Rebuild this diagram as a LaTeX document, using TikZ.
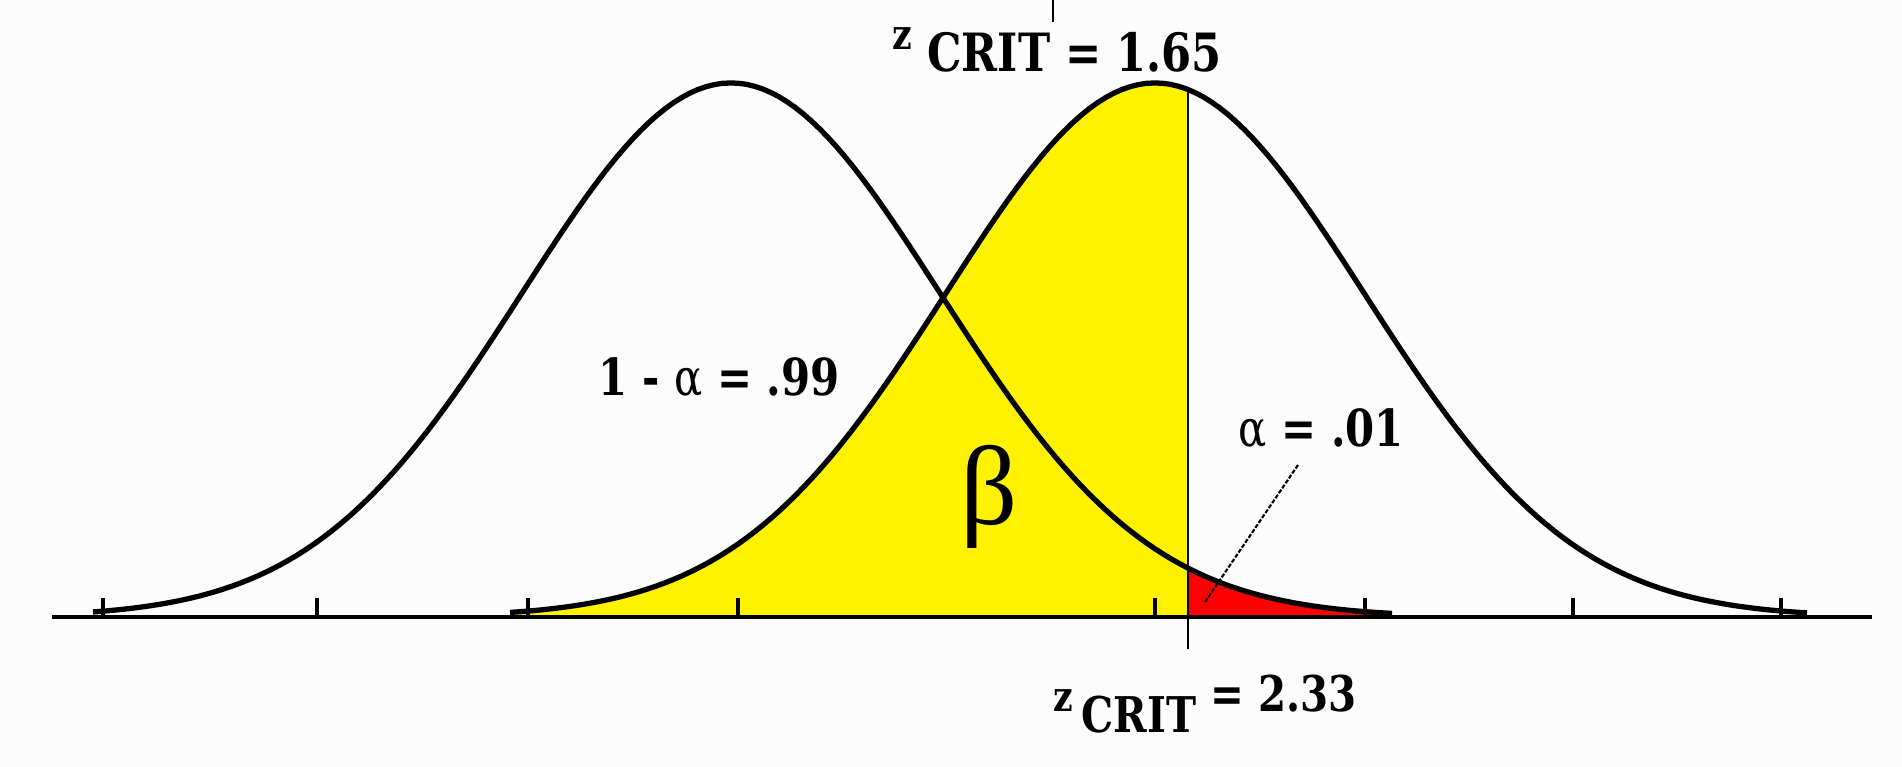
\documentclass[tikz,border=0pt]{standalone}
\usepackage{fontspec}
\newfontfamily\labelfont[FakeStretch=0.82]{DejaVu Serif}
\newfontfamily\greekfont{Liberation Serif}
\definecolor{paper}{RGB}{252,252,252}
\tikzset{declare function={hnull(\x)=617-534*exp(-0.5*((\x-731)/209)^2);
  halt(\x)=617-534*exp(-0.5*((\x-1155)/209)^2);}}

\begin{document}
\begin{tikzpicture}[x=0.01cm,y=-0.01cm,curve/.style={line width=1.5pt,line join=round},
  tick/.style={line width=0.9pt},lbl/.style={inner sep=0pt,anchor=base west,font=\labelfont\bfseries}]
\fill[paper] (0,0) rectangle (1902,767);
\useasboundingbox (0,0) rectangle (1902,767);
% shaded areas: beta and alpha
\fill[yellow] (510,617) -- plot[domain=510:1188,samples=90] (\x,{halt(\x)}) -- (1188,617) -- cycle;
\fill[red] (1188,617) -- plot[domain=1188:1392,samples=40] (\x,{hnull(\x)}) -- (1392,617) -- cycle;
% the two distributions
\draw[curve] plot[domain=93:1392,samples=160] (\x,{hnull(\x)});
\draw[curve] plot[domain=510:1807,samples=160] (\x,{halt(\x)});
% axis with ticks
\coordinate (ax0) at (52,617); \coordinate (ax1) at (1872,617);
\draw[line width=1.2pt] (ax0) -- (ax1);
\foreach \t in {103,317,528,738,1155,1365,1573,1781} \draw[tick] (\t,598) -- (\t,617);
% critical value
\coordinate (crtop) at (1188,{halt(1188)}); \coordinate (crbot) at (1188,649);
\draw[line width=0.8pt] (crtop) -- (crbot);
\coordinate (mk0) at (1053,0); \coordinate (mk1) at (1053,22);
\draw[line width=0.6pt] (mk0) -- (mk1);
% labels
\node[lbl] (zup) at (892,72) {\fontsize{15}{18}\selectfont\raisebox{6.3pt}{\fontsize{12}{14}\selectfont z} CRIT = 1.65};
\node[lbl] (zlow) at (1053,732) {\fontsize{14}{17}\selectfont\raisebox{5.7pt}{\fontsize{12}{14}\selectfont z}\,CRIT \raisebox{5.7pt}{= 2.33}};
\node[lbl] (conf) at (598,396) {\fontsize{14.5}{17}\selectfont 1 - {\mdseries α} = .99};
\node[lbl] (alf) at (1238,446) {\fontsize{14.5}{17}\selectfont{\mdseries α} = .01};
\node[font=\greekfont\fontsize{32}{36}\selectfont] (beta) at (989,497) {β};
\coordinate (ldtop) at (1298,465); \coordinate (ldtip) at (1205,602);
\draw[line width=0.6pt,dash pattern=on 1.2pt off 0.5pt] (ldtop) -- (ldtip);
\end{tikzpicture}
\end{document}
